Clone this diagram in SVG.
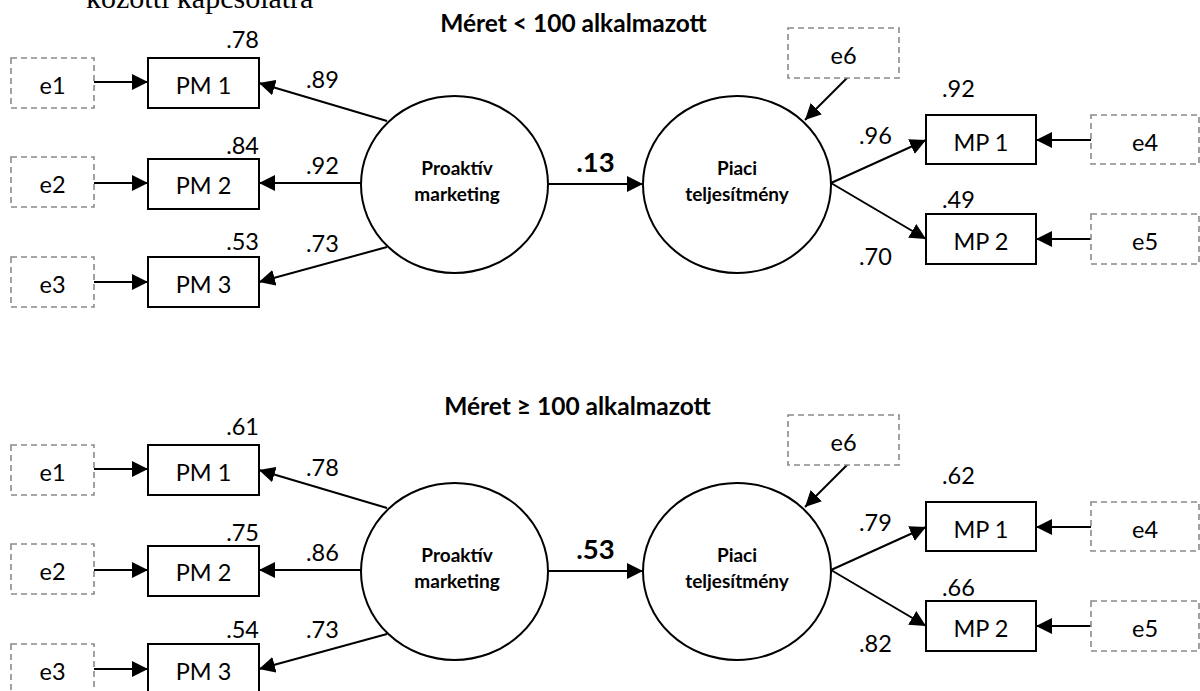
<svg xmlns="http://www.w3.org/2000/svg" width="1200" height="691" viewBox="0 0 1200 691">
<style>
  text { font-family: Lato, "Open Sans", "Liberation Sans", sans-serif; fill: #000; }
  .t { font-size: 23.5px; }
  .m { text-anchor: middle; }
  .e { text-anchor: end; }
  .c { font-size: 19px; font-weight: 700; text-anchor: middle; }
  .ttl { font-size: 24.5px; font-weight: 700; text-anchor: middle; }
  .coef { font-size: 27.5px; font-weight: 700; text-anchor: middle; }
  .err { fill: #fff; stroke: #8a8a8a; stroke-width: 1.6; stroke-dasharray: 6 4; }
  .obs { fill: #fff; stroke: #000; stroke-width: 2; }
  .lat { fill: #fff; stroke: #000; stroke-width: 2; }
  .conn path { fill: none; stroke: #000; stroke-width: 2; marker-end: url(#ah); }
  .head { font-family: "Liberation Serif", serif; font-size: 30px; }
</style>
<defs>
  <marker id="ah" viewBox="0 0 16 16" markerWidth="16" markerHeight="16" refX="16" refY="8" orient="auto" markerUnits="userSpaceOnUse">
    <path d="M0,0 L16,8 L0,16 z" fill="#000"/>
  </marker>
  <g id="diagram">
    <g class="conn" id="connectors">
      <path d="M94,82 L148,82"/>
      <path d="M94,183 L148,183"/>
      <path d="M94,282 L148,282"/>
      <path d="M387,121 L259,83"/>
      <path d="M361,183 L259,183"/>
      <path d="M387,247 L259,282"/>
      <path d="M548,184 L643,184"/>
      <path d="M848,77 L805,120"/>
      <path d="M831,183 L926,140"/>
      <path d="M831,183 L926,239"/>
      <path d="M1091,140 L1036,140"/>
      <path d="M1091,239 L1036,239"/>
    </g>
    <g id="e1"><rect class="err" x="11" y="58" width="83" height="50"/><text class="t m" x="52.5" y="94">e1</text></g>
    <g id="e2"><rect class="err" x="11" y="157" width="83" height="50"/><text class="t m" x="52.5" y="193">e2</text></g>
    <g id="e3"><rect class="err" x="11" y="257" width="83" height="50"/><text class="t m" x="52.5" y="293">e3</text></g>
    <g id="pm1"><rect class="obs" x="148" y="58" width="111" height="50"/><text class="t m" x="203.5" y="94">PM 1</text></g>
    <g id="pm2"><rect class="obs" x="148" y="159" width="111" height="50"/><text class="t m" x="203.5" y="194">PM 2</text></g>
    <g id="pm3"><rect class="obs" x="148" y="257" width="111" height="50"/><text class="t m" x="203.5" y="293">PM 3</text></g>
    <g id="proaktiv"><ellipse class="lat" cx="454.5" cy="184.5" rx="93.5" ry="88.5"/><text class="c" x="457" y="175">Proaktív</text><text class="c" x="457" y="201">marketing</text></g>
    <g id="piaci"><ellipse class="lat" cx="737" cy="184.5" rx="94" ry="88.5"/><text class="c" x="737" y="175">Piaci</text><text class="c" x="737" y="201">teljesítmény</text></g>
    <g id="e6"><rect class="err" x="788" y="28" width="111" height="50"/><text class="t m" x="843.5" y="64">e6</text></g>
    <g id="mp1"><rect class="obs" x="926" y="115" width="110" height="49"/><text class="t m" x="981" y="151">MP 1</text></g>
    <g id="mp2"><rect class="obs" x="926" y="214" width="110" height="50"/><text class="t m" x="981" y="250">MP 2</text></g>
    <g id="e4"><rect class="err" x="1091" y="115" width="108" height="49"/><text class="t m" x="1145" y="151">e4</text></g>
    <g id="e5"><rect class="err" x="1091" y="214" width="108" height="50"/><text class="t m" x="1145" y="250">e5</text></g>
  </g>
</defs>
<text class="head" x="86" y="8">közötti kapcsolatra</text>

<g id="top">
  <text class="ttl" x="573.5" y="32">Méret &lt; 100 alkalmazott</text>
  <use href="#diagram"/>
  <g id="top-labels">
    <text class="t e" x="259" y="48">.78</text>
    <text class="t e" x="259" y="154">.84</text>
    <text class="t e" x="259" y="250">.53</text>
    <text class="t" x="306" y="88">.89</text>
    <text class="t" x="306" y="174">.92</text>
    <text class="t" x="306" y="252">.73</text>
    <text class="coef" x="595.5" y="172">.13</text>
    <text class="t" x="942" y="97">.92</text>
    <text class="t" x="942" y="208">.49</text>
    <text class="t" x="859" y="144">.96</text>
    <text class="t" x="859" y="265">.70</text>
  </g>
</g>

<g id="bottom">
  <text class="ttl" x="577.5" y="415">Méret ≥ 100 alkalmazott</text>
  <use href="#diagram" transform="translate(0,387)"/>
  <g id="bottom-labels" transform="translate(0,387)">
    <text class="t e" x="259" y="48">.61</text>
    <text class="t e" x="259" y="154">.75</text>
    <text class="t e" x="259" y="251">.54</text>
    <text class="t" x="306" y="89">.78</text>
    <text class="t" x="306" y="174">.86</text>
    <text class="t" x="306" y="251">.73</text>
    <text class="coef" x="595.5" y="172">.53</text>
    <text class="t" x="942" y="97">.62</text>
    <text class="t" x="942" y="209">.66</text>
    <text class="t" x="859" y="144">.79</text>
    <text class="t" x="859" y="265">.82</text>
  </g>
</g>
</svg>
